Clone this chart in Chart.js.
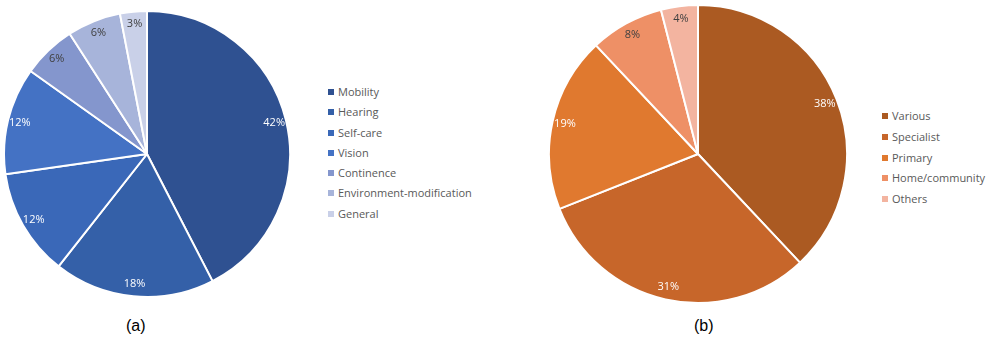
<!DOCTYPE html>
<html>
<head>
<meta charset="utf-8">
<script src="https://cdn.jsdelivr.net/npm/chart.js@4.4.1/dist/chart.umd.min.js"></script>
<style>
  html, body { margin: 0; padding: 0; background: #fff; }
  body { width: 991px; height: 345px; position: relative; overflow: hidden; font-family: "Open Sans", "Liberation Sans", sans-serif; }
  canvas { position: absolute; }
  .legend { position: absolute; font-size: 11px; color: #595959; }
  .legend div { line-height: 20.3px; height: 20.3px; white-space: nowrap; }
  #legB div { line-height: 20.8px; height: 20.8px; }
  .legend span { display: inline-block; width: 6px; height: 6px; margin-right: 4px; vertical-align: 1px; }
  .cap { position: absolute; font-family: "Liberation Sans", Arial, sans-serif; font-size: 16px; color: #000; }
</style>
</head>
<body>
<canvas id="pieA" width="288" height="288" style="left:3px;top:10px"></canvas>
<canvas id="pieB" width="300" height="300" style="left:548px;top:4px"></canvas>
<div class="legend" id="legA" style="left:328px;top:82px"></div>
<div class="legend" id="legB" style="left:882px;top:106px"></div>
<div class="cap" style="left:126px;top:317px">(a)</div>
<div class="cap" style="left:694px;top:317px">(b)</div>
<script>
const typeLabels = ['Mobility', 'Hearing', 'Self-care', 'Vision', 'Continence', 'Environment-modification', 'General'];
const typeValues = [42, 18, 12, 12, 6, 6, 3];
const typeColors = ['#2f5191', '#3460a8', '#3a68b8', '#4472c4', '#8496cd', '#a7b4da', '#c9d0e8'];
const typeText   = ['#fff', '#fff', '#fff', '#fff', '#404040', '#404040', '#404040'];

const providerLabels = ['Various', 'Specialist', 'Primary', 'Home/community', 'Others'];
const providerValues = [38, 31, 19, 8, 4];
const providerColors = ['#ab5a22', '#c7662a', '#e0792f', '#ee9066', '#f3b4a0'];
const providerText   = ['#fff', '#fff', '#fff', '#404040', '#404040'];

// percentage labels drawn inside each slice, like Excel's default
const pctLabels = {
    id: 'pctLabels',
    afterDatasetsDraw(chart, args, opts) {
        const ctx = chart.ctx;
        const meta = chart.getDatasetMeta(0);
        ctx.save();
        ctx.font = '11px "Open Sans", sans-serif';
        ctx.textAlign = 'center';
        ctx.textBaseline = 'middle';
        meta.data.forEach((arc, i) => {
            const p = arc.getProps(['x', 'y', 'startAngle', 'endAngle', 'outerRadius'], true);
            const mid = (p.startAngle + p.endAngle) / 2;
            const r = p.outerRadius * opts.dist;
            ctx.fillStyle = opts.colors[i];
            ctx.fillText(chart.data.datasets[0].data[i] + '%', p.x + Math.cos(mid) * r, p.y + Math.sin(mid) * r);
        });
        ctx.restore();
    }
};

function makePie(id, labels, values, colors, textColors) {
    return new Chart(document.getElementById(id), {
        type: 'pie',
        data: { labels: labels, datasets: [{ data: values, backgroundColor: colors, borderColor: '#ffffff', borderWidth: 2 }] },
        options: {
            responsive: false,
            animation: false,
            layout: { padding: 0 },
            plugins: {
                legend: { display: false },
                tooltip: { enabled: false },
                pctLabels: { dist: 0.915, colors: textColors }
            }
        },
        plugins: [pctLabels]
    });
}

function makeLegend(id, labels, colors) {
    const el = document.getElementById(id);
    labels.forEach((l, i) => {
        const row = document.createElement('div');
        row.innerHTML = '<span style="background:' + colors[i] + '"></span>' + l;
        el.appendChild(row);
    });
}

makePie('pieA', typeLabels, typeValues, typeColors, typeText);
makePie('pieB', providerLabels, providerValues, providerColors, providerText);
makeLegend('legA', typeLabels, typeColors);
makeLegend('legB', providerLabels, providerColors);
</script>
</body>
</html>
